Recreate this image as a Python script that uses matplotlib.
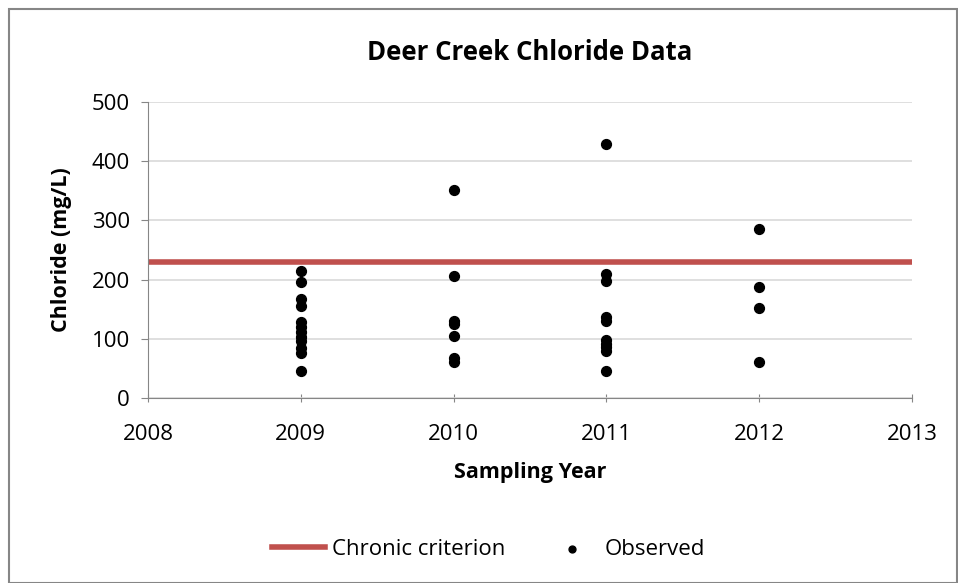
import matplotlib
matplotlib.use("Agg")
import matplotlib.pyplot as plt
from matplotlib.patches import Rectangle

plt.rcParams['font.family'] = ['Open Sans', 'DejaVu Sans']

criterion = 230
years_2009 = [2009] * 12
vals_2009 = [215, 196, 168, 156, 128, 120, 112, 103, 96, 84, 76, 45]
years_2010 = [2010] * 7
vals_2010 = [351, 206, 130, 125, 105, 68, 61]
years_2011 = [2011] * 10
vals_2011 = [429, 210, 197, 136, 130, 98, 92, 86, 80, 45]
years_2012 = [2012] * 4
vals_2012 = [286, 187, 152, 61]

x = years_2009 + years_2010 + years_2011 + years_2012
y = vals_2009 + vals_2010 + vals_2011 + vals_2012

fig = plt.figure(figsize=(9.58, 5.83), dpi=100)
ax = fig.add_axes([148 / 958, 1 - 398 / 583, (912 - 148) / 958, (398 - 102) / 583])

fig.patches.append(Rectangle((0.009, 0.0), 0.99, 0.985, transform=fig.transFigure,
                             fill=False, edgecolor='#868686', linewidth=1.5))

ax.axhline(criterion, color='#c0504d', linewidth=4, label='Chronic criterion', zorder=2)
ax.scatter(x, y, s=50, color='black', zorder=3, label='Observed')

ax.set_xlim(2008, 2013)
ax.set_ylim(0, 500)
ax.set_xticks([2008, 2009, 2010, 2011, 2012, 2013])
ax.set_yticks([0, 100, 200, 300, 400, 500])
ax.grid(axis='y', color='#d9d9d9', linewidth=1.2)
ax.set_axisbelow(True)
for s in ['top', 'right']:
    ax.spines[s].set_visible(False)
ax.spines['left'].set_color('#868686')
ax.spines['bottom'].set_color('#868686')
ax.tick_params(labelsize=16, color='#868686', length=5, direction='out', pad=8)
ax.tick_params(axis='x', direction='inout', length=6, pad=16)

ax.set_title('Deer Creek Chloride Data', fontsize=18.5, fontweight='bold', pad=30)
ax.set_xlabel('Sampling Year', fontsize=15.5, fontweight='bold', labelpad=12)
ax.set_ylabel('Chloride (mg/L)', fontsize=15.5, fontweight='bold', labelpad=14)

fig.legend(loc='lower center', bbox_to_anchor=(0.51, 0.005), ncol=2, frameon=False,
           fontsize=16, handlelength=2.4, handletextpad=0.3, columnspacing=1.8,
           markerscale=0.7)

fig.savefig('out.png', dpi=100)
